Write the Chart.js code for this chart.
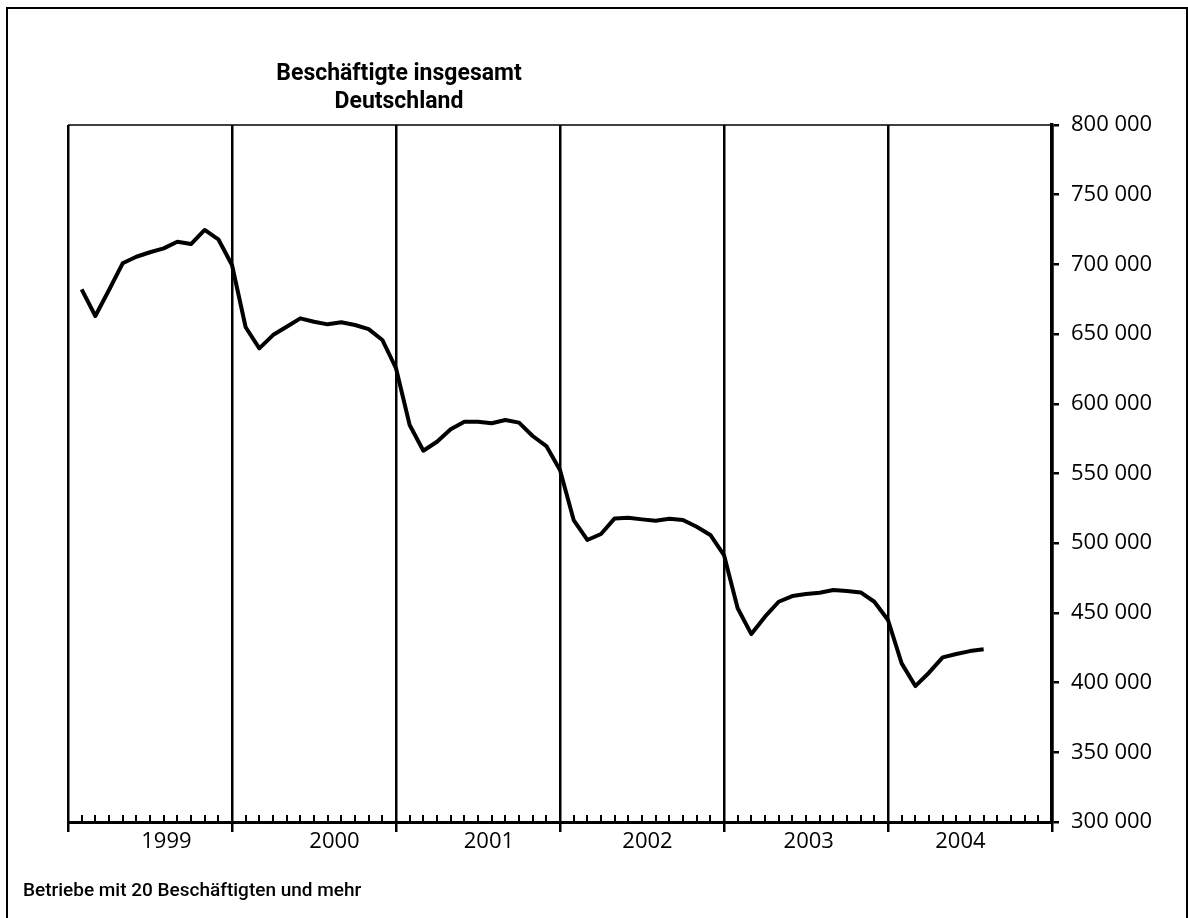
<!DOCTYPE html>
<html lang="de">
<head>
<meta charset="UTF-8">
<title>Beschäftigte insgesamt Deutschland</title>
<script src="https://cdn.jsdelivr.net/npm/chart.js"></script>
<style>
    body { margin: 0; background: #fff; }
    #wrap { position: relative; width: 1188px; height: 918px; overflow: hidden; }
    #chart { position: absolute; left: 0; top: 0; }
    #frame { position: absolute; left: 6px; top: 7px; width: 1182px; height: 940px; box-sizing: border-box;
             border: 2.5px solid #000; border-bottom: none; }
    #title { position: absolute; left: 199px; top: 59px; width: 400px; text-align: center;
             font: bold 23px/28px Roboto, sans-serif; color: #000; }
    #note { position: absolute; left: 23px; top: 880px; font: 500 19px/19px Roboto, sans-serif; color: #000; }
</style>
</head>
<body>
<div id="wrap">
    <canvas id="chart" width="1188" height="918"></canvas>
    <div id="frame"></div>
    <div id="title">Beschäftigte insgesamt<br>Deutschland</div>
    <div id="note">Betriebe mit 20 Beschäftigten und mehr</div>
</div>
<script>
    // monthly values, Feb 1999 .. Aug 2004
    const years = ['1999', '2000', '2001', '2002', '2003', '2004'];
    const firstYear = 1999;
    const firstMonth = 2;
    const employees = [
        682100, 663000, 681600, 700800, 705500, 708700, 711500, 716300, 714600, 724700, 718000,
        699600, 654900, 639800, 649300, 655300, 661300, 658900, 657000, 658500, 656500, 653600, 645800,
        625500, 584800, 566300, 572800, 581700, 587200, 587200, 586000, 588400, 586500, 576900, 569700,
        552500, 516600, 502300, 506600, 517800, 518300, 517100, 516100, 517600, 516600, 511800, 505900,
        491500, 453300, 434800, 447300, 458000, 462100, 463500, 464500, 466400, 465700, 464700, 458000,
        444900, 413800, 397500, 407100, 418100, 420500, 422600, 423900
    ];
    const yMin = 300000, yMax = 800000, yStep = 50000;

    // where the year names sit, in months from Jan 1999
    const yearLabelAt = [7.2, 19.5, 30.8, 42.4, 54.2, 65.3];

    const points = employees.map((v, i) => ({ x: (firstYear - 1999) * 12 + firstMonth - 1 + i, y: v }));
    const boundaries = years.map((y, i) => i * 12).concat([years.length * 12]);
    const labelByPos = new Map(yearLabelAt.map((p, i) => [p, years[i]]));
    const isBoundary = v => v % 12 === 0;

    const monthTicks = {
        id: 'monthTicks',
        beforeDatasetsDraw(chart) {
            const { ctx, chartArea: a, scales: { x } } = chart;
            ctx.save();
            ctx.strokeStyle = '#000';
            ctx.lineWidth = 1.5;
            ctx.beginPath();
            ctx.moveTo(a.left, a.top);
            ctx.lineTo(a.right, a.top);
            ctx.stroke();
            ctx.lineWidth = 2;
            ctx.beginPath();
            for (let m = 1; m < years.length * 12; m++) {
                if (isBoundary(m)) continue;
                const px = Math.round(x.getPixelForValue(m));
                ctx.moveTo(px, a.bottom);
                ctx.lineTo(px, a.bottom - 7);
            }
            ctx.stroke();
            ctx.restore();
        }
    };

    const fmt = v => String(v).replace(/\B(?=(\d{3})+(?!\d))/g, ' ');

    new Chart(document.getElementById('chart'), {
        type: 'line',
        data: {
            datasets: [{
                data: points,
                borderColor: '#000',
                borderWidth: 4,
                borderJoinStyle: 'round',
                pointRadius: 0,
                tension: 0,
                fill: false
            }]
        },
        options: {
            responsive: false,
            animation: false,
            layout: { padding: { left: 68, top: 125, right: 0, bottom: 56 } },
            plugins: { legend: { display: false }, tooltip: { enabled: false }, title: { display: false } },
            scales: {
                x: {
                    type: 'linear',
                    min: 0,
                    max: years.length * 12,
                    afterBuildTicks: s => {
                        s.ticks = boundaries.concat(yearLabelAt).sort((a, b) => a - b).map(v => ({ value: v }));
                    },
                    afterFit: s => { s.height = 40; },
                    ticks: {
                        autoSkip: false,
                        maxRotation: 0,
                        padding: -3,
                        color: '#000',
                        font: { family: 'Open Sans', size: 22, weight: '500' },
                        callback: v => labelByPos.get(v) || ''
                    },
                    grid: {
                        color: c => (c.tick && isBoundary(c.tick.value)) ? '#000' : 'rgba(0,0,0,0)',
                        tickColor: c => (c.tick && isBoundary(c.tick.value)) ? '#000' : 'rgba(0,0,0,0)',
                        lineWidth: 2.5,
                        tickLength: 10
                    },
                    border: { color: '#000', width: 3 }
                },
                y: {
                    position: 'right',
                    min: yMin,
                    max: yMax,
                    afterFit: s => { s.width = 136; },
                    ticks: {
                        stepSize: yStep,
                        padding: 12,
                        color: '#000',
                        font: { family: 'Open Sans', size: 22, weight: '500' },
                        callback: v => fmt(v)
                    },
                    grid: { drawOnChartArea: false, color: '#000', tickColor: '#000', lineWidth: 2.5, tickLength: 7 },
                    border: { color: '#000', width: 3.5 }
                }
            }
        },
        plugins: [monthTicks]
    });
</script>
</body>
</html>
